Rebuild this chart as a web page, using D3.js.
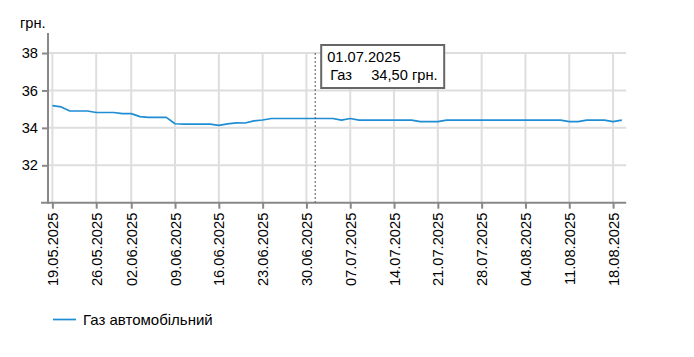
<!DOCTYPE html>
<html>
<head>
<meta charset="utf-8">
<script src="https://cdn.jsdelivr.net/npm/d3@7"></script>
<style>
  html, body { margin: 0; padding: 0; background: #fff; }
  svg { display: block; font-family: "Liberation Sans", Arial, sans-serif; }
</style>
</head>
<body>
<svg id="chart" width="694" height="357"></svg>
<script>
// ---- data ----
const dates = [
  "19.05.2025","20.05.2025","21.05.2025","22.05.2025","23.05.2025",
  "26.05.2025","27.05.2025","28.05.2025","30.05.2025",
  "02.06.2025","03.06.2025","04.06.2025","05.06.2025","06.06.2025",
  "09.06.2025","10.06.2025","11.06.2025","12.06.2025","13.06.2025",
  "16.06.2025","17.06.2025","18.06.2025","19.06.2025","20.06.2025",
  "23.06.2025","24.06.2025","25.06.2025","26.06.2025","27.06.2025",
  "30.06.2025","01.07.2025","02.07.2025","03.07.2025","04.07.2025",
  "07.07.2025","08.07.2025","09.07.2025","10.07.2025","11.07.2025",
  "14.07.2025","15.07.2025","16.07.2025","17.07.2025","18.07.2025",
  "21.07.2025","22.07.2025","23.07.2025","24.07.2025","25.07.2025",
  "28.07.2025","29.07.2025","30.07.2025","31.07.2025","01.08.2025",
  "04.08.2025","05.08.2025","06.08.2025","07.08.2025","08.08.2025",
  "11.08.2025","12.08.2025","13.08.2025","14.08.2025","15.08.2025",
  "18.08.2025","19.08.2025"
];
const gasValues = [
  35.19, 35.12, 34.90, 34.90, 34.90,
  34.82, 34.82, 34.82, 34.76,
  34.76, 34.60, 34.56, 34.56, 34.56,
  34.22, 34.20, 34.20, 34.20, 34.20,
  34.13, 34.21, 34.27, 34.26, 34.37,
  34.42, 34.50, 34.50, 34.50, 34.50,
  34.50, 34.50, 34.50, 34.50, 34.41,
  34.50, 34.41, 34.41, 34.41, 34.41,
  34.41, 34.41, 34.41, 34.33, 34.33,
  34.33, 34.41, 34.41, 34.41, 34.41,
  34.41, 34.41, 34.41, 34.41, 34.41,
  34.41, 34.41, 34.41, 34.41, 34.41,
  34.33, 34.33, 34.41, 34.41, 34.41,
  34.33, 34.41
];
const xTickLabels = [
  "19.05.2025","26.05.2025","02.06.2025","09.06.2025","16.06.2025",
  "23.06.2025","30.06.2025","07.07.2025","14.07.2025","21.07.2025",
  "28.07.2025","04.08.2025","11.08.2025","18.08.2025"
];
const yTicks = [32, 34, 36, 38];
const seriesName = "Газ автомобільний";
const shortName = "Газ";
const unit = "грн.";
const tooltipDate = "01.07.2025";

// ---- layout ----
const svg = d3.select("#chart");
const plotLeft = 48, plotRight = 626.2, plotTop = 33, plotBottom = 202.7;
const lineColor = "#1f8dd3";
const fontSize = "14.67px";

const x = d3.scalePoint().domain(dates).range([plotLeft, plotRight]).padding(0.5);
const y = d3.scaleLinear().domain([30, 39.07]).range([plotBottom, plotTop]);

// grid
const grid = svg.append("g");
grid.selectAll("line.h").data(yTicks).join("line")
  .attr("x1", plotLeft).attr("x2", plotRight)
  .attr("y1", d => y(d)).attr("y2", d => y(d))
  .attr("stroke", "#dedede").attr("stroke-width", 2);
grid.selectAll("line.v").data(xTickLabels).join("line")
  .attr("x1", d => x(d)).attr("x2", d => x(d))
  .attr("y1", y(38)).attr("y2", plotBottom)
  .attr("stroke", "#dedede").attr("stroke-width", 2);

// axes
const yAxis = svg.append("g").attr("transform", `translate(${plotLeft},0)`)
  .call(d3.axisLeft(y).tickValues(yTicks).tickSize(6).tickPadding(4).tickSizeOuter(0));
yAxis.select(".domain").remove();
yAxis.selectAll(".tick line").attr("stroke", "#888").attr("stroke-width", 2);
yAxis.selectAll(".tick text").attr("fill", "#000").style("font-size", fontSize)
  .style("font-family", "Liberation Sans, Arial, sans-serif");

const xAxis = svg.append("g").attr("transform", `translate(0,${plotBottom})`)
  .call(d3.axisBottom(x).tickValues(xTickLabels).tickSize(6).tickSizeOuter(0));
xAxis.select(".domain").remove();
xAxis.selectAll(".tick line").attr("stroke", "#888").attr("stroke-width", 2);
xAxis.selectAll(".tick text")
  .attr("fill", "#000").style("font-size", fontSize)
  .style("font-family", "Liberation Sans, Arial, sans-serif")
  .attr("text-anchor", "end")
  .attr("transform", "rotate(-90)")
  .attr("x", -10).attr("y", 0).attr("dy", "0.35em");

// axis lines
svg.append("line").attr("x1", plotLeft).attr("x2", plotLeft).attr("y1", plotTop).attr("y2", plotBottom + 1)
  .attr("stroke", "#888").attr("stroke-width", 2);
svg.append("line").attr("x1", plotLeft - 7).attr("x2", plotRight).attr("y1", plotBottom).attr("y2", plotBottom)
  .attr("stroke", "#888").attr("stroke-width", 2);

// unit label
svg.append("text").attr("x", 20).attr("y", 28).text(unit)
  .style("font-size", fontSize).attr("fill", "#000");

// line
const line = d3.line().x((d, i) => x(dates[i])).y(d => y(d));
svg.append("path").datum(gasValues)
  .attr("d", line).attr("fill", "none")
  .attr("stroke", lineColor).attr("stroke-width", 1.7)
  .attr("stroke-linejoin", "round");

// tooltip
const ti = dates.indexOf(tooltipDate);
const tx = x(tooltipDate);
svg.append("line").attr("x1", tx).attr("x2", tx).attr("y1", y(38)).attr("y2", plotBottom)
  .attr("stroke", "#555").attr("stroke-width", 1).attr("stroke-dasharray", "2,2");
const tg = svg.append("g").attr("transform", `translate(${tx + 6},45)`);
tg.append("rect").attr("x", 0).attr("y", 0).attr("width", 123).attr("height", 43)
  .attr("fill", "#fff").attr("stroke", "#666").attr("stroke-width", 2);
tg.append("text").attr("x", 6).attr("y", 17).text(tooltipDate)
  .style("font-size", fontSize).attr("fill", "#000");
tg.append("text").attr("x", 9).attr("y", 35).text(shortName)
  .style("font-size", fontSize).attr("fill", "#000");
tg.append("text").attr("x", 50).attr("y", 35)
  .text(gasValues[ti].toFixed(2).replace(".", ",") + " " + unit)
  .style("font-size", fontSize).attr("fill", "#000");

// legend
svg.append("line").attr("x1", 53).attr("x2", 76).attr("y1", 319.5).attr("y2", 319.5)
  .attr("stroke", lineColor).attr("stroke-width", 1.7);
svg.append("text").attr("x", 83).attr("y", 325).text(seriesName)
  .style("font-size", "15px").attr("fill", "#000");
</script>
</body>
</html>
